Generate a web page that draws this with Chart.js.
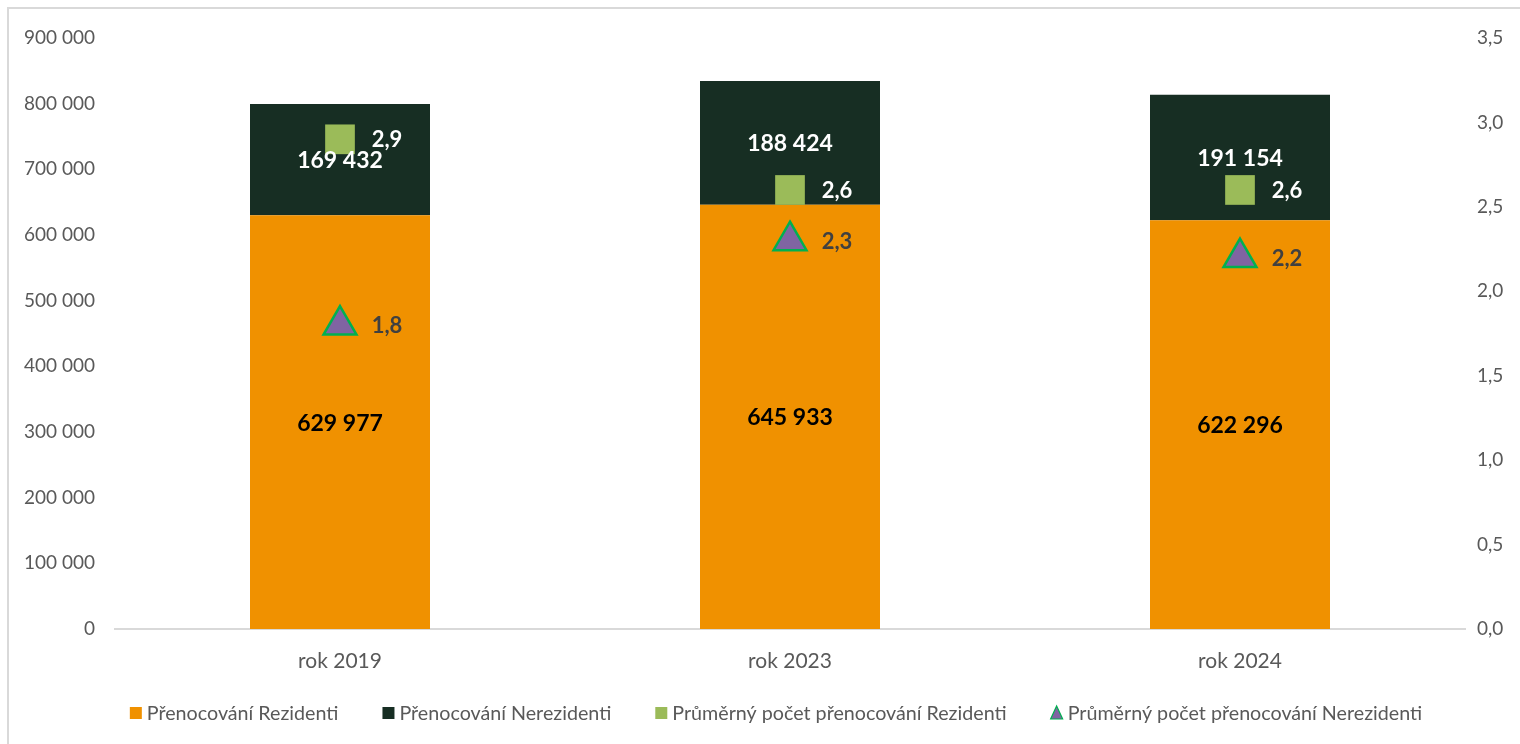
<!DOCTYPE html>
<html>
<head>
<meta charset="utf-8">
<script src="https://cdn.jsdelivr.net/npm/chart.js@4"></script>
<style>
html,body{margin:0;padding:0;background:#fff;width:1520px;height:744px;overflow:hidden;}
#frame{position:absolute;left:7px;top:7px;width:1530px;height:760px;border:2px solid #d9d9d9;box-sizing:border-box;}
#wrap{position:absolute;left:0;top:0;width:1520px;height:744px;}
</style>
</head>
<body>
<div id="frame"></div>
<div id="wrap"><canvas id="c" width="1520" height="744"></canvas></div>
<script>
const categories = ['rok 2019', 'rok 2023', 'rok 2024'];
const rezidenti = [629977, 645933, 622296];
const nerezidenti = [169432, 188424, 191154];
const prumerRezidenti = [2.9, 2.6, 2.6];
const prumerNerezidenti = [1.8, 2.3, 2.2];
const seriesNames = ['Přenocování Rezidenti', 'Přenocování Nerezidenti', 'Průměrný počet přenocování Rezidenti', 'Průměrný počet přenocování Nerezidenti'];

const FONT = 'Lato, "Open Sans", sans-serif';
const fmtThousands = v => String(Math.round(v)).replace(/\B(?=(\d{3})+(?!\d))/g, ' ');
const fmtDec = v => v.toFixed(1).replace('.', ',');

const labelPlugin = {
  id: 'valueLabels',
  afterDatasetsDraw(chart) {
    const ctx = chart.ctx;
    ctx.save();
    ctx.textBaseline = 'middle';
    ctx.textAlign = 'center';
    chart.data.datasets.forEach((ds, i) => {
      const meta = chart.getDatasetMeta(i);
      meta.data.forEach((el, j) => {
        const v = ds.data[j];
        if (ds.type === 'bar') {
          const mid = (el.y + el.base) / 2;
          ctx.font = 'bold 23px ' + FONT;
          ctx.fillStyle = ds.labelColor;
          ctx.fillText(fmtThousands(v), el.x, mid + 1);
        } else {
          ctx.font = 'bold 22px ' + FONT;
          ctx.fillStyle = ds.labelColor;
          ctx.fillText(fmtDec(v), el.x + 47, el.y + 1);
        }
      });
    });
    ctx.restore();
  }
};

// custom legend drawn below the x axis (Excel-like spacing)
const legendPlugin = {
  id: 'excelLegend',
  afterDraw(chart) {
    const ctx = chart.ctx;
    const y = 713, box = 12, gapText = 5, gapItem = 44, centerX = 776;
    ctx.save();
    ctx.font = '19.7px ' + FONT;
    ctx.textBaseline = 'middle';
    ctx.textAlign = 'left';
    const items = chart.data.datasets.map(ds => ({ ds, w: ctx.measureText(ds.label).width }));
    const total = items.reduce((s, it) => s + box + gapText + it.w, 0) + gapItem * (items.length - 1);
    let x = centerX - total / 2;
    items.forEach(({ ds, w }) => {
      if (ds.pointStyle === 'triangle') {
        ctx.beginPath();
        ctx.moveTo(x + box / 2, y - 7);
        ctx.lineTo(x + box, y + 6);
        ctx.lineTo(x, y + 6);
        ctx.closePath();
        ctx.fillStyle = ds.backgroundColor;
        ctx.fill();
        ctx.strokeStyle = ds.borderColor;
        ctx.lineWidth = 1.2;
        ctx.stroke();
      } else {
        ctx.fillStyle = ds.backgroundColor;
        ctx.fillRect(x, y - box / 2, box, box);
      }
      ctx.fillStyle = '#595959';
      ctx.fillText(ds.label, x + box + gapText, y + 1);
      x += box + gapText + w + gapItem;
    });
    ctx.restore();
  }
};

new Chart(document.getElementById('c'), {
  data: {
    labels: categories,
    datasets: [
      { type: 'bar', label: seriesNames[0], data: rezidenti, backgroundColor: '#F09100', yAxisID: 'y', stack: 's', labelColor: '#000000', order: 3 },
      { type: 'bar', label: seriesNames[1], data: nerezidenti, backgroundColor: '#172E23', yAxisID: 'y', stack: 's', labelColor: '#ffffff', order: 3 },
      { type: 'line', label: seriesNames[2], data: prumerRezidenti, yAxisID: 'y1', showLine: false,
        pointStyle: 'rect', pointRadius: 21, pointHoverRadius: 21, backgroundColor: '#9BBB59', borderColor: '#9BBB59', pointBorderWidth: 0, labelColor: '#ffffff', order: 1 },
      { type: 'line', label: seriesNames[3], data: prumerNerezidenti, yAxisID: 'y1', showLine: false,
        pointStyle: 'triangle', pointRadius: 19, pointHoverRadius: 19, backgroundColor: '#8064A2', borderColor: '#00B050', pointBorderWidth: 2.5, labelColor: '#404040', order: 1 }
    ]
  },
  options: {
    responsive: false,
    animation: false,
    devicePixelRatio: 1,
    layout: { padding: { top: 38, left: 0, right: 0, bottom: 60 } },
    plugins: {
      tooltip: { enabled: false },
      legend: { display: false }
    },
    scales: {
      x: {
        stacked: true,
        grid: { display: false },
        border: { display: true, color: '#d9d9d9', width: 2 },
        ticks: { font: { family: FONT, size: 21 }, color: '#595959', padding: 12 },
        afterFit(s) { s.height = 55; }
      },
      y: {
        stacked: true, position: 'left', min: 0, max: 900000,
        grid: { display: false, drawTicks: false },
        border: { display: false },
        ticks: { stepSize: 100000, font: { family: FONT, size: 19 }, color: '#595959', padding: 20, callback: v => fmtThousands(v) },
        afterFit(s) { s.width = 115; }
      },
      y1: {
        position: 'right', min: 0, max: 3.5,
        grid: { display: false, drawTicks: false },
        border: { display: false },
        ticks: { stepSize: 0.5, font: { family: FONT, size: 19 }, color: '#595959', padding: 12, callback: v => fmtDec(v) },
        afterFit(s) { s.width = 55; }
      }
    },
    datasets: { bar: { categoryPercentage: 1, barPercentage: 0.4 } }
  },
  plugins: [labelPlugin, legendPlugin]
});
</script>
</body>
</html>
